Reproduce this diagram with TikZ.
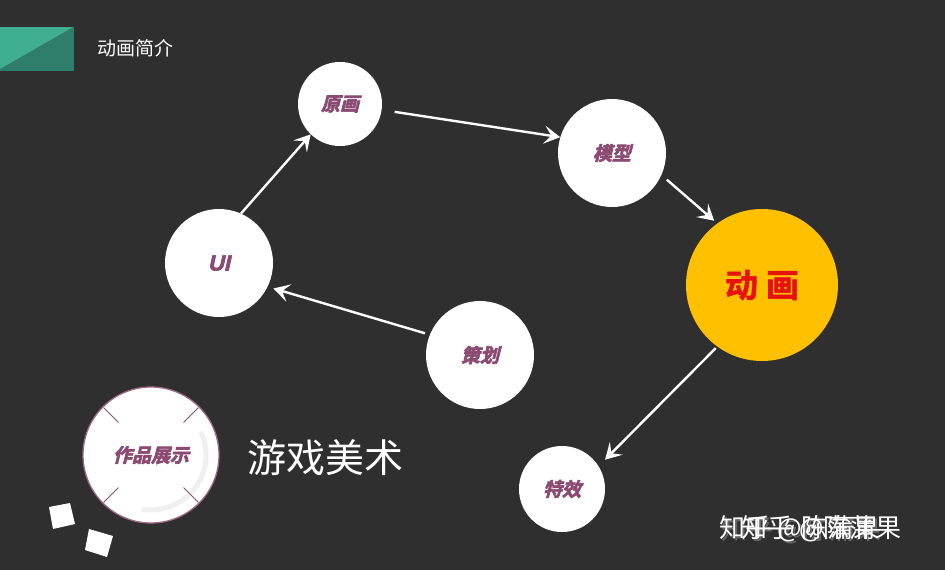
\documentclass[tikz,border=0pt]{standalone}
\usepackage{fontspec}
\newfontfamily\cjk{Noto Sans CJK SC}
\newfontfamily\cjkbold{Noto Sans CJK SC Bold}
\newfontfamily\cjkbi{Noto Sans CJK SC Bold}[FakeSlant=0.25]
\newfontfamily\latinbi{Liberation Sans}[FakeSlant=0.22,BoldFeatures={FakeSlant=0.22}]
\newcommand\heavy[1]{\special{pdf:literal direct 2 Tr 0.6 w}#1\special{pdf:literal direct 0 Tr}}
\usetikzlibrary{arrows.meta}

\definecolor{bgdark}{HTML}{2F2F2F}
\definecolor{tealA}{HTML}{40AE90}
\definecolor{tealB}{HTML}{2F7D6B}
\definecolor{plum}{HTML}{8A4A72}
\definecolor{gold}{HTML}{FFC000}
\definecolor{redtxt}{HTML}{E5120E}
\definecolor{rim}{HTML}{9C6A85}

\begin{document}
\begin{tikzpicture}[x=1pt,y=-1pt,
  stage/.style={circle,fill=white,inner sep=0pt,text=plum,
    font=\cjkbi\fontsize{19}{19}\selectfont},
  flow/.style={draw=white,line width=2.4pt,
    -{Stealth[length=16pt,width=18pt,inset=7pt]}},
  tick/.style={draw=rim!80!black,line width=0.8pt}]
  % background
  \fill[bgdark] (0,0) rectangle (945,570);
  \useasboundingbox (0,0) rectangle (945,570);

  % banner, top left
  \fill[tealB] (0,27) rectangle (74,71);
  \fill[tealA] (0,27) -- (73,27) -- (0,69) -- cycle;
  \node[anchor=west,text=white,font=\cjk\fontsize{19}{19}\selectfont] (title) at (94,48) {动画简介};

  % the stages
  \node[stage,minimum size=84pt] (yuanhua) at (340,104) {\heavy{原画}};
  \node[stage,minimum size=108pt] (moxing) at (612,153) {\heavy{模型}};
  \node[stage,minimum size=152pt,fill=gold,text=redtxt,
        font=\cjkbold\fontsize{33}{33}\selectfont] (donghua) at (762,285) {\heavy{动\hspace{8pt}画}};
  \node[stage,minimum size=108pt,font=\latinbi\bfseries\fontsize{22}{22}\selectfont] (ui) at (219,263) {\heavy{UI}};
  \node[stage,minimum size=108pt] (cehua) at (480,355) {\heavy{策划}};
  \node[stage,minimum size=86pt] (texiao) at (562,489) {\heavy{特效}};

  % arrows between stages
  \draw[flow] (ui.66) -- (yuanhua.-134);
  \draw[flow,shorten <=13pt] (yuanhua.-8) -- (moxing.163);
  \draw[flow,shorten <=7pt,shorten >=4pt] (moxing.-24) -- (donghua.126);
  \draw[flow,shorten <=2pt,shorten >=9pt] (donghua.-126) -- (texiao.32);
  \draw[flow,shorten <=5pt,shorten >=6pt] (cehua.158) -- (ui.-26);

  % showcase badge
  \node[stage,minimum size=136pt,draw=rim,line width=1.3pt] (zuopin) at (151,455) {\heavy{作品展示}};
  \draw[black!6,line width=5pt] (151,455) ++(100:55) arc[start angle=100,end angle=-25,radius=55];
  \foreach \a in {45,135,225,315}
    \draw[tick] (zuopin.center) ++(\a:46) -- ++(\a:21);
  \node[anchor=west,text=white,font=\cjk\fontsize{39}{39}\selectfont] (youxi) at (244,458) {游戏美术};

  % little squares
  \fill[white] (49,507) -- (70,503) -- (75,524) -- (53,529) -- cycle;
  \fill[white] (89,529) -- (113,536) -- (107,557) -- (85,550) -- cycle;

  % watermark
  \node[anchor=west,text=black!60,font=\cjk\fontsize{26}{26}\selectfont] at (718,531) {知乎 @陈蒲果};
  \node[anchor=west,text=white,font=\cjk\fontsize{26}{26}\selectfont] (mark1) at (716,529) {知乎 @陈蒲果};
  \node[anchor=west,text=white,font=\cjk\fontsize{26}{26}\selectfont] (mark2) at (738,529) {知乎 @陈蒲果};
\end{tikzpicture}
\end{document}
